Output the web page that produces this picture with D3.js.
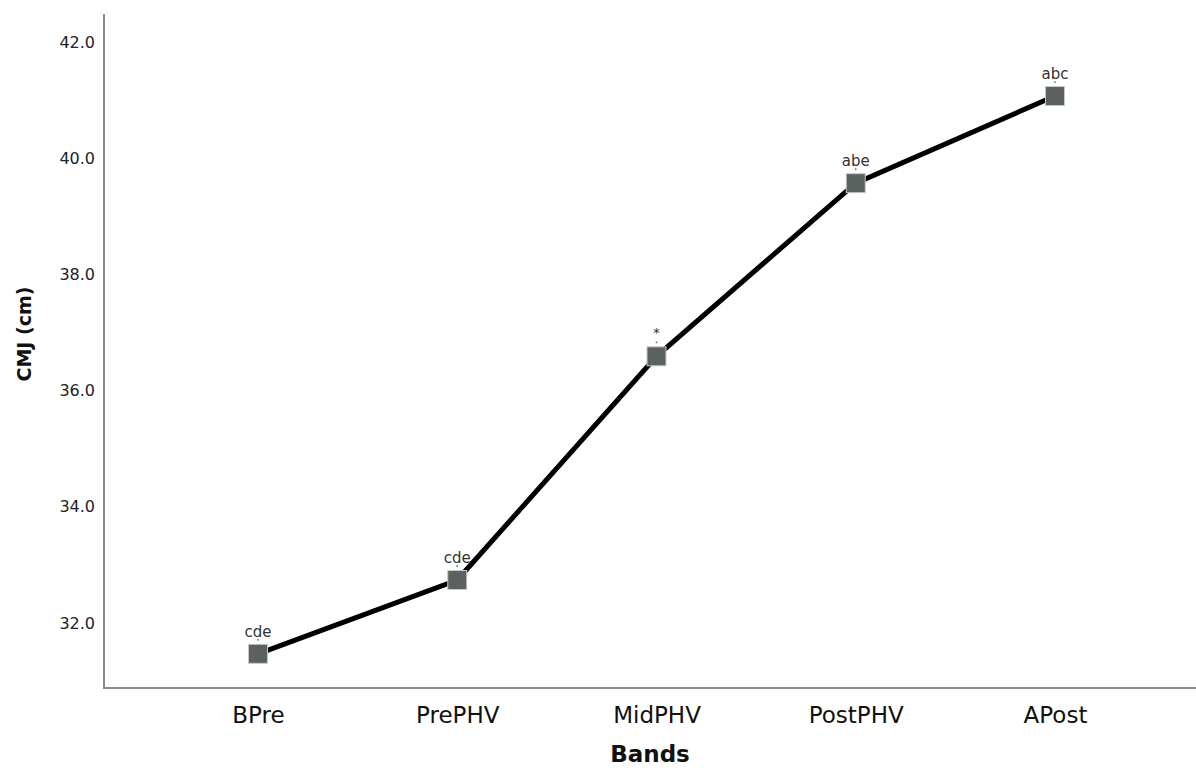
<!DOCTYPE html>
<html><head><meta charset="utf-8">
<script src="https://cdn.jsdelivr.net/npm/d3@7"></script>
<style>body{margin:0;background:#fff;} text{font-family:"DejaVu Sans",sans-serif;}</style>
</head><body><svg id="c" width="1196" height="770"></svg>
<script>
const categories = ["BPre","PrePHV","MidPHV","PostPHV","APost"];
const values = [31.47, 32.74, 36.59, 39.57, 41.07];
const annotations = ["cde","cde","*","abe","abc"];
const yTicks = [32,34,36,38,40,42];

(function(){
const svg = d3.select("#c");
const mLeft = 104, mBottom = 688, mTop = 14;
const x = d3.scalePoint().domain(categories).range([258, 1055]);
const y = d3.scaleLinear().domain([32, 42]).range([623, 42]);

// axes
const ya = svg.append("g").attr("transform", `translate(${mLeft},0)`)
  .call(d3.axisLeft(y).tickValues(yTicks).tickSize(0).tickPadding(9).tickFormat(d3.format(".1f")));
ya.select(".domain").remove();
ya.selectAll("text").attr("font-size", 16).attr("fill", "#222");
svg.append("line").attr("x1", mLeft).attr("x2", mLeft).attr("y1", mTop).attr("y2", mBottom)
  .attr("stroke", "#8a8a8a").attr("stroke-width", 2);

const xa = svg.append("g").attr("transform", `translate(0,${mBottom})`)
  .call(d3.axisBottom(x).tickSize(0).tickPadding(18));
xa.select(".domain").remove();
xa.selectAll("text").attr("font-size", 23).attr("fill", "#111").attr("dy", null).attr("y", 35);
svg.append("line").attr("x1", mLeft - 1).attr("x2", 1196).attr("y1", mBottom).attr("y2", mBottom)
  .attr("stroke", "#8a8a8a").attr("stroke-width", 2);

// titles
svg.append("text").attr("x", 650).attr("y", 762).attr("text-anchor", "middle")
  .attr("font-size", 23).attr("font-weight", "bold").attr("fill", "#111").text("Bands");
svg.append("text").attr("transform", "translate(31,334) rotate(-90)").attr("text-anchor", "middle")
  .attr("font-size", 19).attr("font-weight", "bold").attr("fill", "#111").text("CMJ (cm)");

// line
const data = categories.map((c, i) => ({c, v: values[i], a: annotations[i]}));
svg.append("path").datum(data)
  .attr("d", d3.line().x(d => x(d.c)).y(d => y(d.v)))
  .attr("fill", "none").attr("stroke", "#000").attr("stroke-width", 5);

// markers
const s = 19;
svg.selectAll("rect.m").data(data).enter().append("rect").attr("class", "m")
  .attr("x", d => x(d.c) - s/2).attr("y", d => y(d.v) - s/2)
  .attr("width", s).attr("height", s)
  .attr("fill", "#5b615f").attr("stroke", "#c8cac9").attr("stroke-width", 1);

// annotations
svg.selectAll("text.a").data(data).enter().append("text").attr("class", "a")
  .attr("x", d => x(d.c)).attr("y", d => y(d.v) - (d.a === "*" ? 19 : 17))
  .attr("text-anchor", "middle").attr("font-size", d => d.a === "*" ? 13 : 15)
  .attr("fill", "#333").text(d => d.a);
svg.selectAll("circle.d").data(data).enter().append("circle").attr("class", "d")
  .attr("cx", d => x(d.c)).attr("cy", d => y(d.v) - 14).attr("r", 0.9).attr("fill", "#666");
})();
</script></body></html>
